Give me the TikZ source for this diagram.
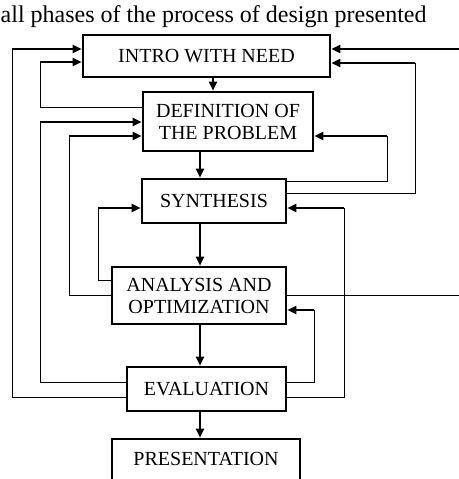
\documentclass[tikz,border=0pt]{standalone}
\usepackage{fontspec}
\setmainfont{Liberation Serif}
\usetikzlibrary{arrows.meta}

\tikzset{
  block/.style={draw, line width=2.6pt, inner sep=0pt, align=center, font=\fontsize{20}{22}\selectfont},
  link/.style={line width=0.9pt},
  feed/.style={line width=2pt, -{Triangle[length=9pt,width=8pt]}},
}

\begin{document}
\begin{tikzpicture}[x=1pt,y=-1pt]
    \useasboundingbox (0,0) rectangle (458,479);

    % Title line above the chart
    \node[anchor=base west, inner sep=0pt, font=\fontsize{24}{28}\selectfont] (title) at (0.5,22) {all phases of the process of design presented};

    % Draw the boxes
    \node[block, minimum width=247pt, minimum height=42pt] (intro) at (206.5,56) {INTRO WITH NEED};
    \node[block, minimum width=170pt, minimum height=59pt] (def) at (228,121.5) {DEFINITION OF\\THE PROBLEM};
    \node[block, minimum width=144pt, minimum height=44pt] (synth) at (214,201) {SYNTHESIS};
    \node[block, minimum width=174pt, minimum height=57pt] (anal) at (199,295.5) {ANALYSIS AND\\OPTIMIZATION};
    \node[block, minimum width=159pt, minimum height=44pt] (eval) at (206.5,389) {EVALUATION};
    \node[block, minimum width=188pt, minimum height=44pt, text height=14pt, text depth=5pt] (pres) at (206,461) {PRESENTATION};

    % Free ends on the right edge
    \coordinate (need) at (462,49);
    \coordinate (out) at (462,295);

    % Draw the arrows down the chain
    \draw[feed] (intro.south -| 213,0) -- (def.north -| 213,0);
    \draw[feed] (def.south -| 200,0) -- (synth.north -| 200,0);
    \draw[feed] (synth.south -| 200,0) -- (anal.north -| 200,0);
    \draw[feed] (anal.south -| 200,0) -- (eval.north -| 200,0);
    \draw[feed] (eval.south -| 200,0) -- (pres.north -| 200,0);

    % Feedback lines on the left
    \draw[link] (eval.west |- 0,397) -| (12,49) edge[feed] (intro.west |- 0,49);
    \draw[link] (def.west |- 0,107) -| (40,62) edge[feed] (intro.west |- 0,62);
    \draw[link] (eval.west |- 0,382) -| (40,122) edge[feed] (def.west |- 0,122);
    \draw[link] (anal.west |- 0,295) -| (69,136) edge[feed] (def.west |- 0,136);
    \draw[link] (anal.west |- 0,280) -| (98,208) edge[feed] (synth.west |- 0,208);

    % Feedback lines on the right
    \draw[feed] (need) -- (intro.east |- 0,49);
    \draw[link] (synth.east |- 0,193) -| (415,63) edge[feed] (intro.east |- 0,63);
    \draw[link] (synth.east |- 0,181) -| (387,136) edge[feed] (def.east |- 0,136);
    \draw[link] (anal.east |- 0,295) -- (out);
    \draw[link] (eval.east |- 0,397) -| (344,208) edge[feed] (synth.east |- 0,208);
    \draw[link] (eval.east |- 0,382) -| (314,310) edge[feed] (anal.east |- 0,310);
\end{tikzpicture}
\end{document}
